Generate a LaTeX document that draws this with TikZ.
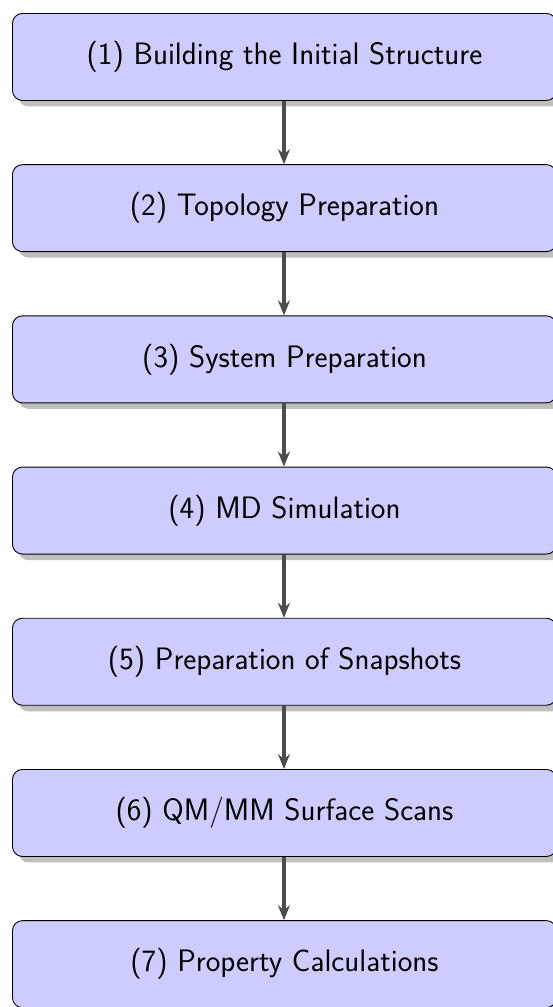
\documentclass[tikz,border=0pt]{standalone}
\usetikzlibrary{shadows,arrows.meta}
\begin{document}
\begin{tikzpicture}[x=1pt,y=1pt,
  stagebox/.style={draw=black, line width=0.9pt, fill=blue!20, rounded corners=10pt,
    minimum width=544pt, minimum height=87pt, anchor=north west, inner sep=0pt,
    font=\sffamily\fontsize{31}{36}\selectfont,
    drop shadow={shadow xshift=6pt, shadow yshift=-6pt, fill=black!25, opacity=1}},
  flow/.style={draw=black!70, line width=3.5pt, -{Stealth[length=15pt,width=12pt]}}]
\useasboundingbox (0,0) rectangle (552,-1007);
\node[stagebox] (s1) at (12,-13)    {(1) Building the Initial Structure};
\node[stagebox] (s2) at (12,-164.2) {(2) Topology Preparation};
\node[stagebox] (s3) at (12,-315.4) {(3) System Preparation};
\node[stagebox] (s4) at (12,-466.6) {(4) MD Simulation};
\node[stagebox] (s5) at (12,-617.8) {(5) Preparation of Snapshots};
\node[stagebox] (s6) at (12,-769)   {(6) QM/MM Surface Scans};
\node[stagebox] (s7) at (12,-920.2) {(7) Property Calculations};
\foreach \a/\b in {s1/s2,s2/s3,s3/s4,s4/s5,s5/s6,s6/s7}
  \draw[flow] ([xshift=-0.5pt]\a.south) -- ([xshift=-0.5pt]\b.north);
\end{tikzpicture}
\end{document}
